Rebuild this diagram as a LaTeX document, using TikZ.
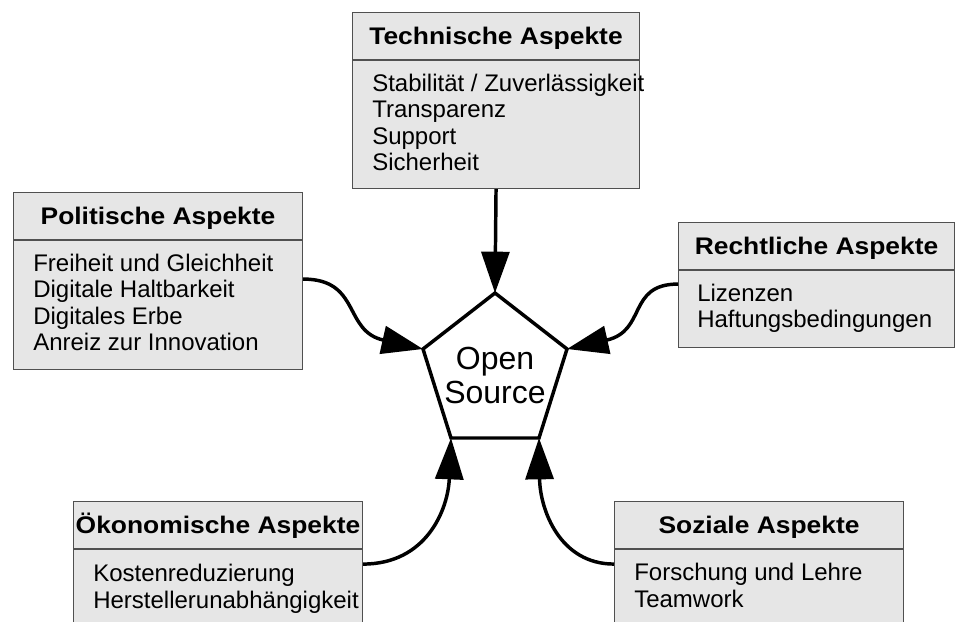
\documentclass[tikz,border=0pt]{standalone}
\usepackage{fontspec}
\setmainfont{Liberation Sans}[BoldFeatures={FakeStretch=1.1}]
\usetikzlibrary{arrows.meta,positioning}
\definecolor{boxgray}{RGB}{230,230,230}
\definecolor{framegray}{RGB}{80,80,80}
\tikzset{%
	aspecthead/.style = {draw=framegray, fill=boxgray, line width=0.8pt, rectangle, minimum width=#1, minimum height=35.25pt, inner sep=0pt, text height=12.9pt, text depth=0pt, font=\bfseries\fontsize{18pt}{20pt}\selectfont},
	aspectbody/.style = {draw=framegray, fill=boxgray, line width=0.8pt, rectangle, minimum width=#1, inner sep=0pt},
	aspectlist/.style = {anchor=north west, inner sep=0pt, align=left, font=\fontsize{18pt}{19.7pt}\selectfont},
	flow/.style       = {line width=2.6pt, -{Triangle[length=31pt,width=21pt]}},
}

\begin{document}
\begin{tikzpicture}[x=0.75pt, y=-0.75pt]
		\useasboundingbox (0,0) rectangle (955,621);
		\clip (0,0) rectangle (955,621);
		
		% the five aspect boxes
		\node[aspecthead=215.25pt, anchor=north west] (techhead) at (352,12) {Technische Aspekte};
		\node[aspectbody=215.25pt, minimum height=96pt, below=0pt of techhead] (techbody) {};
		\node[aspectlist] (techlist) at ([shift={(20,14)}]techbody.north west) {Stabilität / Zuverlässigkeit\\Transparenz\\Support\\Sicherheit};
		
		\node[aspecthead=216.75pt, anchor=north west] (polhead) at (13,192) {Politische Aspekte};
		\node[aspectbody=216.75pt, minimum height=96.75pt, below=0pt of polhead] (polbody) {};
		\node[aspectlist] (pollist) at ([shift={(20,14)}]polbody.north west) {Freiheit und Gleichheit\\Digitale Haltbarkeit\\Digitales Erbe\\Anreiz zur Innovation};
		
		\node[aspecthead=207pt, anchor=north west] (rechthead) at (678,222) {Rechtliche Aspekte};
		\node[aspectbody=207pt, minimum height=57.75pt, below=0pt of rechthead] (rechtbody) {};
		\node[aspectlist] (rechtlist) at ([shift={(19,14)}]rechtbody.north west) {Lizenzen\\Haftungsbedingungen};
		
		\node[aspecthead=216.75pt, anchor=north west] (oekohead) at (73,501) {Ökonomische Aspekte};
		\node[aspectbody=216.75pt, minimum height=57.75pt, below=0pt of oekohead] (oekobody) {};
		\node[aspectlist] (oekolist) at ([shift={(20,15)}]oekobody.north west) {Kostenreduzierung\\Herstellerunabhängigkeit};
		
		\node[aspecthead=216.75pt, anchor=north west] (sozhead) at (614,501) {Soziale Aspekte};
		\node[aspectbody=216.75pt, minimum height=57.75pt, below=0pt of sozhead] (sozbody) {};
		\node[aspectlist] (sozlist) at ([shift={(20,14)}]sozbody.north west) {Forschung und Lehre\\Teamwork};
		
		% pentagon in the middle
		\coordinate (ptop) at (495,293);
		\coordinate (pright) at (567,349);
		\coordinate (pbr) at (539,438);
		\coordinate (pbl) at (451,438);
		\coordinate (pleft) at (423,349);
		\draw[line width=2.6pt] (ptop) -- (pright) -- (pbr) -- (pbl) -- (pleft) -- cycle;
		\node[font=\fontsize{24pt}{25.5pt}\selectfont, align=center, inner sep=0pt] (os) at (495,375.5) {Open\\Source};
		
		% arrows
		\draw[flow] (techbody.south) -- (ptop);
		\draw[flow] ([shift={(0,39)}]polbody.north east) .. controls +(58,0) and +(-80,-18) .. (pleft);
		\draw[flow] ([shift={(0,14)}]rechtbody.north west) .. controls +(-51,0) and +(80,-18) .. (pright);
		\draw[flow] ([shift={(0,15)}]oekobody.north east) .. controls +(63,0) and +(-3,72) .. (pbl);
		\draw[flow] ([shift={(0,15)}]sozbody.north west) .. controls +(-54,0) and +(1,72) .. (pbr);
		
	\end{tikzpicture}
\end{document}
